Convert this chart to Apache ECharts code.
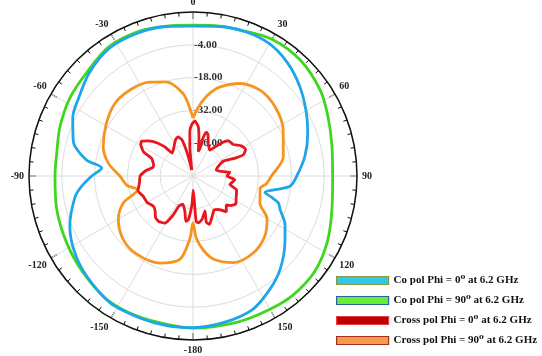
<!DOCTYPE html>
<html>
<head>
<meta charset="utf-8">
<script src="https://cdn.jsdelivr.net/npm/echarts@6/dist/echarts.min.js"></script>
<style>
  html, body { margin: 0; padding: 0; background: #fff; }
  #chart { width: 542px; height: 356px; }
</style>
</head>
<body>
<div id="chart"></div>
<script>
// Radiation pattern at 6.2 GHz: gain in dB versus angle theta (degrees, 0 at top, clockwise).

const seriesNames = [
  'Co pol Phi = 0\u2070 at 6.2 GHz',
  'Co pol Phi = 90\u2070 at 6.2 GHz',
  'Cross pol Phi = 0\u2070 at 6.2 GHz',
  'Cross pol Phi = 90\u2070 at 6.2 GHz'
];

// Co-polar, Phi = 0
const coPol0Angle = [0, 10, 20, 30, 40, 50, 60, 70, 80, 90, 96, 103, 105, 107.5, 111, 118, 126, 137, 146, 156, 168, 180,
  -170, -160, -147, -133, -122, -112, -100, -95, -90, -85, -81.5, -76, -73, -64, -56, -45, -33, -21, -10, 0];
const coPol0Db = [4.0, 4.8, 5.5, 5.2, 2.9, -0.5, -4.3, -7.9, -11.5, -15.7, -18.4, -28.5, -25.5, -21.8, -20.2, -15.5, -11.5, -5.5, -1.5, 2.4, 3.9, 4.7,
  4.8, 4.7, 4.7, 2.3, -0.1, -3.3, -8.9, -12.5, -16.8, -20.9, -14.1, -8.1, -6.5, -2.9, -1.0, 2.5, 5.2, 5.4, 4.8, 4.0];

// Co-polar, Phi = 90
const coPol90Angle = [0, 10, 18, 30, 43, 56, 66, 77, 90, 103, 116, 128, 140, 150, 163, 180,
  -170, -158, -145, -131, -118, -104, -90, -79, -70, -58, -46, -33, -20, -10, 0];
const coPol90Db = [4.4, 5.0, 5.5, 7.4, 7.4, 5.5, 3.0, 0.8, -0.4, 0.9, 3.8, 6.0, 6.4, 5.7, 5.2, 4.9,
  4.3, 4.4, 4.2, 2.4, 1.0, -0.1, -1.1, -0.9, 0.5, 2.2, 3.3, 5.8, 5.9, 5.0, 4.4];

// Cross-polar, Phi = 0
const xPol0Angle = [-12, -6, -4, -1, 2, 6, 9, 12, 14, 15, 17, 20, 25, 33, 40, 45, 52, 58, 63, 67, 67, 64, 68, 76, 82, 84, 90,
  95, 103, 108, 116, 123, 128, 131, 137, 143, 148, 156, 161, 164, 161, 168, 173, 176, 177, 179,
  -178, -174, -171, -167, -160, -155, -153, -149, -143, -138, -132, -127, -120, -112, -105, -97, -90,
  -84, -78, -74, -67, -64, -59, -56, -52, -47, -44, -42, -33, -26, -21, -17, -14, -12];
const xPol0Db = [-57.4, -47.2, -40.8, -37.8, -36.5, -38.7, -43.8, -49.3, -48.0, -42.9, -40.4, -41.2, -44.6, -46.8, -42.1, -38.7, -38.2, -35.7, -34.8, -36.5, -40.4, -45.5, -48.0, -49.8, -46.8, -44.2, -45.5,
  -42.1, -43.8, -40.4, -39.5, -38.2, -39.5, -41.2, -39.1, -42.1, -42.9, -40.4, -38.2, -39.5, -44.2, -41.2, -39.9, -40.4, -49.3, -54.0,
  -48.0, -41.2, -40.4, -44.6, -47.2, -45.9, -41.2, -36.5, -35.7, -36.1, -38.2, -38.7, -37.4, -37.0, -35.7, -37.0, -37.4,
  -39.5, -42.5, -42.5, -40.8, -36.5, -34.0, -33.5, -35.7, -39.5, -42.9, -46.8, -45.1, -42.9, -42.1, -43.8, -50.6, -57.4];

// Cross-polar, Phi = 90
const xPol90Angle = [0, 4, 7.7, 12, 17, 27, 38, 50, 63, 78, 90, 96, 100.5, 104, 112, 120, 130, 142, 155, 166, 172, 177, 180,
  -177, -171, -159, -144, -132, -120, -111, -104, -98, -90, -81.5, -72, -59, -47, -36, -25, -16, -7, -3, 0];
const xPol90Db = [-35.3, -31.0, -27.3, -23.5, -20.2, -15.7, -13.5, -14.2, -16.8, -20.6, -26.5, -28.5, -30.9, -30.5, -29.2, -23.5, -20.0, -18.3, -19.2, -23.4, -28.0, -33.5, -40.0,
  -33.0, -24.0, -20.2, -18.9, -19.8, -23.2, -28.2, -35.5, -31.5, -28.8, -23.5, -19.7, -16.8, -14.5, -14.5, -15.8, -18.2, -24.4, -30.5, -35.3];

// Radial scale (dB) and the radial values that carry a label
const radialMin = -60;
const radialMax = 10;
const radialStep = 14;
const radialLabels = [-46, -32, -18, -4];

const lineColors = ['#1fa6ea', '#3fd71d', '#e8161d', '#f5951f'];
const legendFill = ['#2ec8ec', '#66ee33', '#c00000', '#f79a4a'];
const legendEdge = ['#8a9a3a', '#2d5fa8', '#e04040', '#a03020'];

const toAxisAngle = a => (a % 360 + 360) % 360;
const pairUp = (angles, values) => angles.map((a, i) => [values[i], toAxisAngle(a)]);

const serif = '"Liberation Serif", "DejaVu Serif", serif';

const curves = [
  pairUp(coPol0Angle, coPol0Db),
  pairUp(coPol90Angle, coPol90Db),
  pairUp(xPol0Angle, xPol0Db),
  pairUp(xPol90Angle, xPol90Db)
];
const drawOrder = [1, 0, 3, 2];

const chart = echarts.init(document.getElementById('chart'), null, { renderer: 'canvas' });

chart.setOption({
  animation: false,
  backgroundColor: '#ffffff',
  polar: { center: [193, 176], radius: 164 },
  angleAxis: {
    type: 'value',
    min: 0,
    max: 360,
    interval: 30,
    startAngle: 90,
    clockwise: true,
    axisLine: { show: true, lineStyle: { color: '#111', width: 1.5 } },
    axisTick: { show: true, inside: true, length: 7, lineStyle: { color: '#111', width: 1.2 } },
    minorTick: { show: true, splitNumber: 6, length: 4, lineStyle: { color: '#111', width: 1 } },
    axisLabel: {
      show: true,
      margin: 5,
      color: '#222',
      fontFamily: serif,
      fontWeight: 'bold',
      fontSize: 10,
      formatter: v => (v === 360 ? '' : String(v > 180 ? v - 360 : (v === 180 ? -180 : v)))
    },
    splitLine: { show: true, lineStyle: { color: '#dcdcdc', width: 1 } }
  },
  radiusAxis: {
    type: 'value',
    min: radialMin,
    max: radialMax,
    interval: radialStep,
    axisLine: { show: false },
    axisTick: { show: false },
    axisLabel: {
      show: true,
      color: '#333',
      fontFamily: serif,
      fontWeight: 'bold',
      fontSize: 11,
      align: 'left',
      margin: -1,
      padding: [0, 0, 5, 0],
      formatter: v => (radialLabels.indexOf(v) >= 0 ? v.toFixed(2) : '')
    },
    splitLine: { show: true, lineStyle: { color: '#dcdcdc', width: 1 } }
  },
  legend: {
    orient: 'vertical',
    left: 331,
    top: 270,
    icon: 'rect',
    itemWidth: 52,
    itemHeight: 8,
    itemGap: 9,
    textStyle: { color: '#111', fontFamily: serif, fontWeight: 'bold', fontSize: 11 },
    data: seriesNames.map((n, i) => ({
      name: n,
      itemStyle: { color: legendFill[i], borderColor: legendEdge[i], borderWidth: 1.2 }
    }))
  },
  series: drawOrder.map(i => ({
    name: seriesNames[i],
    type: 'line',
    coordinateSystem: 'polar',
    showSymbol: false,
    smooth: i === 2 ? 0.15 : 0.3,
    z: 3,
    lineStyle: { color: lineColors[i], width: 2.8 },
    itemStyle: { color: lineColors[i] },
    data: curves[i]
  }))
});
</script>
</body>
</html>
